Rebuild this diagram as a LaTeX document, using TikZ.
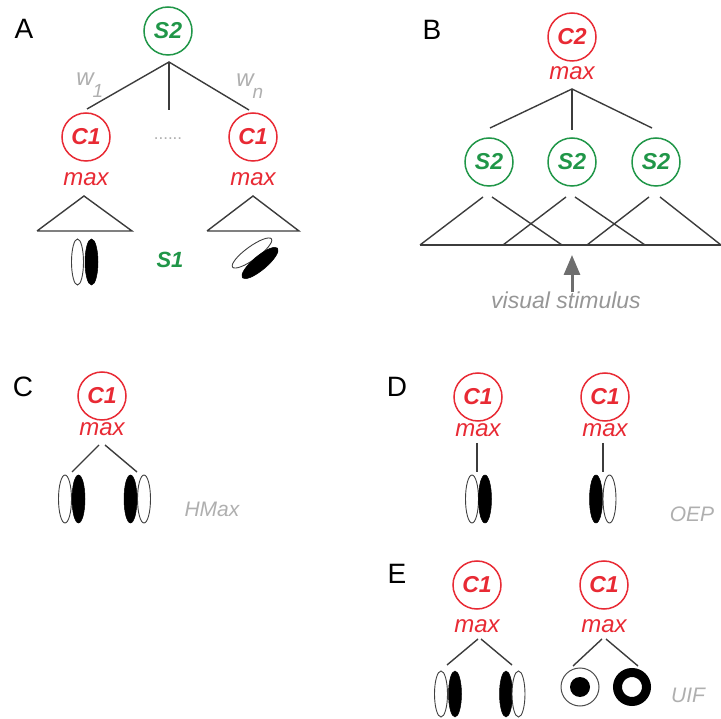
\documentclass[tikz,border=0pt]{standalone}
\usepackage{fontspec}
\setmainfont{Liberation Sans}
\usetikzlibrary{arrows.meta}
\definecolor{cred}{RGB}{232,42,52}
\definecolor{cgreen}{RGB}{32,150,72}
\definecolor{cgray}{RGB}{175,175,175}
\definecolor{cdgray}{RGB}{150,150,150}
\definecolor{cline}{RGB}{60,60,60}
\definecolor{carrow}{RGB}{110,110,110}
\tikzset{
  unit/.style={circle, line width=1.5pt, minimum size=48pt, inner sep=0pt,
    font=\fontsize{23}{27}\selectfont\bfseries\itshape},
  redunit/.style={unit, draw=cred, text=cred},
  greenunit/.style={unit, draw=cgreen, text=cgreen},
  maxlab/.style={text=cred, inner sep=0pt, font=\fontsize{24}{28}\selectfont\itshape},
  conn/.style={draw=cline, line width=1.4pt},
  panellab/.style={inner sep=0pt, font=\fontsize{28}{32}\selectfont},
  graylab/.style={text=cgray, inner sep=0pt, font=\fontsize{21}{25}\selectfont\itshape},
  wlab/.style={text=cgray, inner sep=0pt, font=\fontsize{24}{28}\selectfont\itshape},
  wsub/.style={text=cgray, inner sep=0pt, font=\fontsize{19}{22}\selectfont\itshape},
  openbar/.style={draw=black!75, line width=0.9pt, fill=white},
  fullbar/.style={fill=black, draw=black, line width=0.5pt},
}
\begin{document}
\begin{tikzpicture}[x=1pt,y=-1pt]
\useasboundingbox (0,0) rectangle (721,719);

% ---------------- Panel A ----------------
\node[panellab] (lA) at (24,29) {A};
\node[greenunit] (s2) at (168,31) {S2};
\coordinate (s2a) at (169,62);
\coordinate (aw1) at (87,109);
\coordinate (awm) at (169,110);
\coordinate (awn) at (249,110);
\draw[conn] (aw1) -- (s2a) -- (awn);
\draw[conn] (s2a) -- (awm);
\node[wlab] (w1) at (85,79) {w};
\node[wsub] (w1s) at (98,91) {1};
\node[wlab] (wn) at (245,80) {w};
\node[wsub] (wns) at (258,93) {n};

\node[redunit] (c1l) at (86,137) {C1};
\node[maxlab] (m1l) at (86,179) {max};
\node[redunit] (c1r) at (253,137) {C1};
\node[maxlab] (m1r) at (253,179) {max};
\node[text=cgray, inner sep=0pt, font=\fontsize{17}{20}\selectfont] (dots) at (168,139) {......};

\coordinate (tla) at (84,196);
\coordinate (tll) at (37,231);
\coordinate (tlr) at (132,231);
\draw[conn] (tll) -- (tla) -- (tlr) -- (tll);
\coordinate (tra) at (253,196);
\coordinate (trl) at (207,231);
\coordinate (trr) at (299,231);
\draw[conn] (trl) -- (tra) -- (trr) -- (trl);

\draw[openbar] (77.5,262) ellipse [x radius=6, y radius=23];
\draw[fullbar] (91.5,262) ellipse [x radius=6.5, y radius=23];
\node[text=cgreen, inner sep=0pt, font=\fontsize{22}{26}\selectfont\bfseries\itshape] (s1) at (170,260) {S1};
\draw[openbar, shift={(252,253)}, rotate=36] (0,0) ellipse [x radius=24, y radius=6.5];
\draw[fullbar, shift={(260,263)}, rotate=40] (0,0) ellipse [x radius=23, y radius=7];

% ---------------- Panel B ----------------
\node[panellab] (lB) at (432,30) {B};
\node[redunit] (c2) at (572,37) {C2};
\node[maxlab] (m2) at (572,73) {max};
\coordinate (ba) at (572,89);
\coordinate (bl) at (490,128);
\coordinate (bm) at (572,130);
\coordinate (br) at (652,128);
\draw[conn] (bl) -- (ba) -- (br);
\draw[conn] (ba) -- (bm);
\node[greenunit] (s2b1) at (489,162) {S2};
\node[greenunit] (s2b2) at (572,162) {S2};
\node[greenunit] (s2b3) at (656,162) {S2};

\coordinate (b1a) at (483,197); \coordinate (b1b) at (492,197);
\coordinate (b2a) at (566,197); \coordinate (b2b) at (575,197);
\coordinate (b3a) at (649,197); \coordinate (b3b) at (660,197);
\coordinate (g1) at (420,245); \coordinate (g2) at (562,245);
\coordinate (g3) at (503,245); \coordinate (g4) at (645,245);
\coordinate (g5) at (587,245); \coordinate (g6) at (721,245);
\draw[conn] (b1a) -- (g1);
\draw[conn] (b1b) -- (g2);
\draw[conn] (b2a) -- (g3);
\draw[conn] (b2b) -- (g4);
\draw[conn] (b3a) -- (g5);
\draw[conn] (b3b) -- (g6);
\draw[conn] (g1) -- (g6);
\coordinate (arb) at (572,292);
\coordinate (art) at (572,255);
\draw[draw=carrow, line width=3pt, -{Triangle[length=20pt,width=16pt]}] (arb) -- (art);
\node[text=cdgray, inner sep=0pt, font=\fontsize{23}{27}\selectfont\itshape] (vs) at (566,300) {visual stimulus};

% ---------------- Panel C ----------------
\node[panellab] (lC) at (23,387) {C};
\node[redunit] (c1c) at (102,396) {C1};
\node[maxlab] (mc) at (102,429) {max};
\coordinate (ca1) at (99,445); \coordinate (ca2) at (105,445);
\coordinate (cl) at (72,472); \coordinate (cr) at (137,472);
\draw[conn] (ca1) -- (cl);
\draw[conn] (ca2) -- (cr);
\draw[openbar] (65,499) ellipse [x radius=6.5, y radius=24];
\draw[fullbar] (78.5,499) ellipse [x radius=6.5, y radius=24];
\draw[fullbar] (130.5,499) ellipse [x radius=6.5, y radius=24];
\draw[openbar] (144,499) ellipse [x radius=6.5, y radius=24];
\node[graylab] (hmax) at (212,509) {HMax};

% ---------------- Panel D ----------------
\node[panellab] (lD) at (397,387) {D};
\node[redunit] (c1d1) at (478,397) {C1};
\node[maxlab] (md1) at (478,430) {max};
\coordinate (d1t) at (477,443); \coordinate (d1b) at (477,472);
\draw[conn] (d1t) -- (d1b);
\draw[openbar] (472,499) ellipse [x radius=6.5, y radius=24];
\draw[fullbar] (485,499) ellipse [x radius=6.5, y radius=24];
\node[redunit] (c1d2) at (605,397) {C1};
\node[maxlab] (md2) at (605,430) {max};
\coordinate (d2t) at (603,443); \coordinate (d2b) at (603,472);
\draw[conn] (d2t) -- (d2b);
\draw[fullbar] (596,499) ellipse [x radius=6.5, y radius=24];
\draw[openbar] (609.5,499) ellipse [x radius=6.5, y radius=24];
\node[graylab] (oep) at (692,514) {OEP};

% ---------------- Panel E ----------------
\node[panellab] (lE) at (397,574) {E};
\node[redunit] (c1e1) at (477,585) {C1};
\node[maxlab] (me1) at (477,626) {max};
\coordinate (e1a) at (478,639); \coordinate (e1b) at (481,639);
\coordinate (e1l) at (447,665); \coordinate (e1r) at (512,665);
\draw[conn] (e1a) -- (e1l);
\draw[conn] (e1b) -- (e1r);
\draw[openbar] (441,694) ellipse [x radius=6.5, y radius=23];
\draw[fullbar] (455,694) ellipse [x radius=6.5, y radius=23];
\draw[fullbar] (506,694) ellipse [x radius=6.5, y radius=23];
\draw[openbar] (518.5,694) ellipse [x radius=6.5, y radius=23];

\node[redunit] (c1e2) at (604,585) {C1};
\node[maxlab] (me2) at (604,626) {max};
\coordinate (e2a) at (602,639); \coordinate (e2b) at (606,639);
\coordinate (e2l) at (573,666); \coordinate (e2r) at (638,666);
\draw[conn] (e2a) -- (e2l);
\draw[conn] (e2b) -- (e2r);
\draw[draw=black!70, line width=1pt] (580,687) circle [radius=19];
\fill[black] (580,687) circle [radius=10];
\draw[black, line width=9pt] (632,687) circle [radius=14.5];
\node[graylab] (uif) at (688,695) {UIF};
\end{tikzpicture}
\end{document}
